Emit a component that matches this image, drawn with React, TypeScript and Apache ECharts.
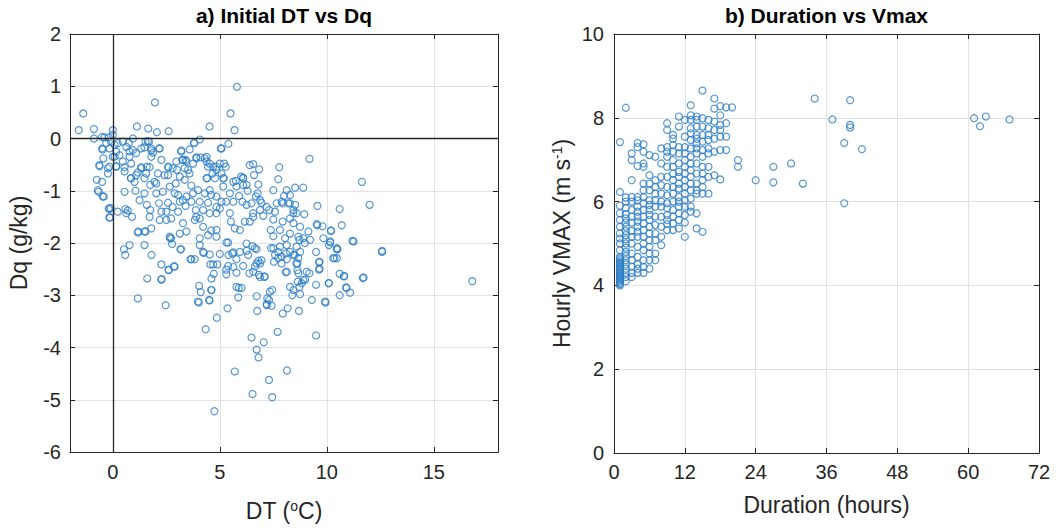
import React, { useEffect, useRef } from "react";
import * as echarts from "echarts";

// Panel a) Initial DT (°C) vs Dq (g/kg)
const dtDqPoints: [number, number][] = [
  [5.8,0.99],[1.97,0.69],[-1.38,0.48],[5.5,0.48],[5.69,0.16],[4.52,0.23],[-1.59,0.16],[-0.88,0.18],[0,0.16],[1.13,0.23],[1.66,0.19],[2.06,0.12],[2.61,0.14],[-0.88,0],[-0.5,0.03],[-0.39,0.02],[-0.19,0.02],
  [0,0.07],[-0.08,-0.06],[0.08,-0.12],[-0.16,-0.19],[0.16,-0.25],[0.23,-0.09],[0.47,-0.06],[0.63,-0.16],[0.94,0],[0.78,-0.25],[-0.5,-0.19],[-0.31,-0.09],[0.31,-0.32],[0,-0.35],[-0.63,-0.51],[-0.16,-0.54],[-0.23,-0.67],[0.16,-0.54],[0.47,-0.44],[0.78,-0.35],[0.86,-0.48],[1.09,-0.28],[1.33,-0.19],[1.53,-0.06],[1.69,-0.06],[1.8,-0.19],[1.88,-0.27],[2.19,-0.19],[2.27,-0.41],[1.59,-0.54],[1.33,-0.57],[1.56,-0.67],[1.09,-0.7],[0.84,-0.76],[0.55,-0.63],[-0.75,-0.79],[-0.5,-0.83],[-0.66,-1.02],[-0.42,-1.11],[-0.16,-1.35],[-0.1,-1.33],[-0.16,-1.51],[0.23,-1.4],[0.59,-1.35],[0.7,-1.38],[0.9,-1.5],[0.55,-1.02],[1.06,-1.0],[1.25,-1.18],[1.48,-1.05],[1.59,-1.27],[1.75,-1.37],[2.16,-1.24],[2.58,-1.23],[2.27,-1.4],[2.5,-1.56],[2.73,-1.53],[1.75,-0.89],[2.03,-0.86],[2.42,-0.7],[2.58,-0.54],[2.8,-0.57],[3.2,-0.25],[2.97,-0.44],[3.25,-0.41],[3.4,-0.41],[3.52,-0.6],[3.13,-0.73],[2.94,-0.86],[3.36,-0.79],[3.59,-0.67],[3.67,-0.9],[3.05,-1.08],[3.13,-1.21],[3.28,-1.18],[3.44,-1.11],[3.67,-1.21],[3.4,-1.29],[3.75,-0.48],[3.8,-0.08],[4.06,-0.02],[3.9,-0.36],[4.1,-0.36],[4.38,-0.35],[4.38,-0.44],[4.53,-0.48],[4.69,-0.54],[4.66,-0.67],[4.84,-0.6],[5,-0.48],[5.2,-0.48],[5.05,-0.19],[5.4,-0.1],[4.38,-0.76],[4.77,-0.76],[5.16,-0.76],[5.63,-0.83],[6.09,-0.75],[6.25,-0.89],[6.8,-0.88],[6.4,-0.51],[6.56,-0.49],[6.84,-0.59],[7.78,-0.55],[7.73,-0.78],[9.19,-0.39],[8.52,-0.94],[8.9,-0.94],[7.5,-0.99],[6.77,-1.05],[6.69,-1.11],[6.88,-1.18],[6.95,-1.23],[6.48,-1.24],[6.25,-1.27],[6.06,-1.21],[5.63,-1.21],[5.3,-1.21],[5.08,-1.21],[4.84,-1.11],[4.53,-0.99],[4.6,-1.08],[4.45,-1.23],[4.06,-1.21],[4.22,-1.37],[3.88,-1.37],[3.83,-1.56],[4.06,-1.53],[3.9,-1.5],[4.53,-1.43],[4.84,-1.43],[5,-1.34],[5.47,-1.43],[5.52,-1.59],[5.7,-1.72],[5.94,-1.75],[6.17,-1.59],[6.4,-1.59],[6.56,-1.5],[7.03,-1.48],[7.31,-1.37],[7.66,-1.24],[7.89,-1.21],[8.0,-1.1],[8.28,-1.08],[8.2,-1.24],[8.44,-1.37],[8.59,-1.43],[8.95,-1.45],[8.52,-1.27],[8.28,-1.53],[7.94,-1.59],[7.5,-1.55],[7.38,-1.75],[7.81,-1.75],[7.5,-1.87],[8.05,-1.91],[8.67,-1.88],[8.75,-1.69],[9.14,-1.78],[9.22,-1.94],[9.56,-1.29],[9.53,-1.64],[9.8,-1.68],[10.2,-1.77],[10.6,-1.35],[10.7,-1.66],[11.2,-1.96],[11.64,-0.83],[12.0,-1.27],[12.58,-2.15],[4.22,-1.69],[4.6,-1.76],[4.45,-1.85],[4.06,-1.91],[4.84,-1.75],[5.39,-1.99],[6.25,-2.01],[6.64,-2.1],[3.44,-1.78],[3.13,-1.82],[3.28,-1.62],[2.73,-1.91],[2.66,-1.88],[1.19,-1.78],[1.48,-1.78],[1.8,-1.72],[0.78,-2.04],[1.48,-2.04],[0.63,-1.43],[1.72,-1.5],[2.19,-1.56],[2.5,-1.4],[2.8,-1.31],[3.05,-1.4],[2.03,-1.05],[2.34,-1.02],[2.66,-0.92],[2.89,-1.05],[3.75,-1.05],[3.98,-0.99],[4.3,-1.05],[4.84,-1.31],[5.16,-0.92],[5.47,-1.05],[5.78,-0.92],[6.0,-0.73],[6.56,-1.43],[6.88,-1.37],[7.19,-1.31],[7.58,-1.4],[8.28,-1.82],[8.44,-1.62],[8.9,-1.91],[9.84,-1.91],[10.16,-1.97],[10.47,-2.1],
  [0.52,-2.12],[0.58,-2.23],[1.81,-2.23],[2.27,-2.41],[2.61,-2.51],[2.86,-2.45],[3.16,-2.12],[2.77,-2.02],[3.67,-2.31],[3.83,-2.31],[4.06,-2.04],[4.25,-2.19],[4.53,-2.22],[5.0,-2.21],[4.56,-2.41],[4.88,-2.41],[1.61,-2.68],[2.27,-2.7],[1.17,-3.06],[2.47,-3.19],[4.03,-2.82],[4.11,-2.94],[4.02,-3.14],[4.52,-3.1],[4.61,-2.9],[4.61,-2.68],[4.72,-2.59],[4.86,-3.43],[4.34,-3.65],[5.36,-3.25],[5.3,-2.51],[5.3,-2.6],[5.39,-2.44],[5.63,-2.46],[5.41,-2.23],[5.58,-2.2],[5.78,-2.57],[5.78,-2.84],[5.89,-2.86],[6.02,-2.86],[5.86,-3.04],[5.63,-2.18],[5.78,-2.31],[5.94,-2.17],[6.25,-2.15],[6.33,-2.23],[6.09,-2.44],[6.38,-2.58],[6.56,-2.55],[6.64,-2.45],[6.72,-2.39],[6.8,-2.34],[6.95,-2.33],[6.88,-2.39],[6.53,-2.06],[6.72,-2.12],[6.83,-2.61],[7.09,-2.64],[6.72,-3.02],[7.34,-2.93],[7.22,-3.06],[7.19,-3.17],[7.42,-3.2],[6.75,-3.3],[6.48,-3.81],[7.05,-3.9],[6.72,-4.04],[6.81,-4.19],[7.7,-3.7],[5.7,-4.46],[7.3,-4.62],[6.53,-4.89],[7.45,-4.95],[8.14,-4.44],[4.75,-5.22],[7.39,-2.1],[7.58,-2.23],[7.73,-2.29],[7.53,-2.36],[7.89,-2.39],[7.81,-2.07],[8.09,-2.2],[8.28,-2.17],[8.44,-2.23],[8.59,-2.07],[8.67,-2.29],[8.63,-2.39],[8.13,-2.31],[8.08,-2.56],[8.63,-2.52],[9.06,-2.55],[9.19,-2.58],[8.64,-2.74],[8.83,-2.77],[8.98,-2.7],[8.28,-2.84],[8.44,-2.9],[8.72,-2.84],[8.75,-2.98],[8.39,-3.0],[9.3,-3.09],[8.17,-3.25],[7.94,-3.35],[8.7,-3.3],[9.5,-2.17],[9.5,-2.8],[9.64,-2.37],[9.66,-2.49],[9.94,-3.14],[10.09,-2.77],[10.6,-2.59],[10.81,-2.63],[10.3,-2.29],[10.47,-2.12],[10.47,-2.29],[10.1,-2.04],[10.6,-3.0],[10.92,-2.86],[11.09,-2.95],[11.72,-2.66],[11.68,-2.67],[9.5,-3.77],[12.58,-2.17],[16.8,-2.73],[11.25,-1.97],
  [-0.7,-0.99],[-0.47,-1.11],[-0.19,-1.34],[-0.13,-1.51],[1.17,-1.8],[1.53,-1.78],[2.28,-2.69],[2.61,-2.52],[2.89,-2.45],[2.67,-1.91],[3.19,-2.12],[3.63,-2.31],[4.22,-2.17],[4.69,-2.41],[4.84,-1.88],[5.31,-1.99],[4.6,-2.9],[4.5,-3.09],[3.98,-3.12],
  [-0.47,-0.21],[-0.44,-0.38],[-0.62,-0.53],[-0.23,-0.57],[0.08,-0.35],[0.16,-0.53],[0.55,-0.55],[0.86,-0.76],[1.17,-0.65],[1.33,-0.55],[1.72,-0.55],[2.11,-0.67],[2.58,-0.7],[2.61,-0.55],[3.0,-0.6],[3.36,-0.57],[3.28,-0.41],[3.44,-0.44],[3.2,-0.23],[3.59,-0.21],[3.8,-0.09],[3.91,-0.38],[4.3,-0.38],[4.45,-0.54],[4.84,-0.54],[5.08,-0.67],[5.28,-0.54],[5.08,-0.19],[4.41,-0.76],[5.19,-0.76],[6.09,-0.76],[5.75,-0.81],[1.48,-0.76],[1.95,-0.83],[1.02,-0.83],[1.8,-0.35],[1.8,-0.23],[2.16,-0.19],[1.48,-0.17],[1.64,-0.05],[0.75,-0.08],[0.94,-0.22],
  [10.19,-1.76],[9.56,-1.66],[10.16,-1.99],[10.5,-2.12],[10.36,-2.29],[9.66,-2.36],[9.64,-2.51],[8.13,-0.99],[7.94,-1.24],[8.28,-1.24],[8.44,-1.43],[8.72,-1.94],[8.97,-2.0],[8.75,-2.17],[8.58,-2.39],[8.5,-2.23],[8.13,-2.04],[7.73,-2.17],[7.5,-2.1],[7.89,-2.26],[8.13,-2.55],[8.67,-2.58],[8.9,-2.71],[9.92,-3.12],[10.1,-2.77],[10.8,-2.64],[10.9,-2.85],[6.88,-2.65],[7.09,-2.65],[7.3,-3.09],[7.45,-2.9],[7.2,-3.19],[6.09,-0.89],[6.3,-1.0],[5.9,-1.1],[6.6,-0.7],
];

// Panel b) Duration (hours) vs hourly VMAX (m s^-1)
const durationVmaxPoints: [number, number][] = [
  [1,7.42],[1,6.23],[1,5.9],[1,5.72],[1,5.56],[1,5.4],[1,5.24],[1,5.12],[1,5.0],[1,4.84],[1,4.68],[1,4.0],[1,4.03],[1,4.06],[1,4.1],[1,4.13],[1,4.16],[1,4.2],[1,4.23],[1,4.26],[1,4.3],[1,4.33],[1,4.36],[1,4.4],[1,4.43],[1,4.46],[1,4.5],[1,4.53],[1,4.56],[1,4.6],[1,4.64],
  [2,8.24],[2,4.1],[2,4.2],[2,4.3],[2,4.4],[2,4.5],[2,4.6],[2,4.7],[2,4.8],[2,4.9],[2,5.0],[2,5.1],[2,5.2],[2,5.3],[2,5.4],[2,5.5],[2,5.6],[2,5.7],[2,5.85],[2,6.0],[2,6.1],
  [3,7.15],[3,6.99],[3,6.51],[3,6.11],[3,6.0],[3,5.8],[3,5.64],[3,5.5],[3,5.3],[3,5.16],[3,5.0],[3,4.76],[3,4.2],[3,4.3],[3,4.45],[3,4.6],
  [4,7.4],[4,7.3],[4,6.85],[4,6.11],[4,6.03],[4,5.88],[4,5.76],[4,5.64],[4,5.4],[4,5.16],[4,4.92],[4,4.68],[4,4.4],[4,4.3],[4,4.5],[4,5.28],[4,5.52],
  [5,7.37],[5,7.19],[5,6.91],[5,6.83],[5,6.43],[5,6.27],[5,6.11],[5,5.96],[5,5.8],[5,5.64],[5,5.48],[5,5.32],[5,5.16],[5,5.0],[5,4.84],[5,4.44],[5,4.3],[5,4.6],
  [6,7.11],[6,6.63],[6,6.43],[6,6.27],[6,6.03],[6,5.92],[6,5.8],[6,5.68],[6,5.56],[6,5.4],[6,5.24],[6,5.08],[6,4.92],[6,4.76],[6,4.4],[6,4.6],
  [7,7.07],[7,6.51],[7,6.35],[7,6.19],[7,6.03],[7,5.88],[7,5.64],[7,5.44],[7,5.24],[7,5.08],[7,4.76],[7,4.6],
  [8,7.27],[8,6.91],[8,6.59],[8,6.39],[8,6.19],[8,6.0],[8,5.88],[8,5.64],[8,5.4],[8,5.16],[8,4.96],
  [9,7.87],[9,7.71],[9,7.3],[9,7.19],[9,7.07],[9,6.83],[9,6.59],[9,6.35],[9,6.15],[9,5.96],[9,5.84],[9,5.68],[9,5.56],[9,5.46],[9,5.32],
  [10,7.59],[10,7.5],[10,7.35],[10,7.19],[10,6.99],[10,6.83],[10,6.67],[10,6.51],[10,6.35],[10,6.19],[10,6.0],[10,5.8],[10,5.64],[10,5.48],[10,5.32],
  [11,8.03],[11,7.79],[11,7.3],[11,7.15],[11,6.91],[11,6.71],[11,6.59],[11,6.43],[11,6.31],[11,6.11],[11,6.0],[11,5.88],[11,5.72],[11,5.56],[11,5.36],
  [12,7.95],[12,7.55],[12,7.3],[12,7.15],[12,6.99],[12,6.83],[12,6.67],[12,6.51],[12,6.35],[12,6.19],[12,6.03],[12,5.88],[12,5.68],[12,5.5],[12,5.16],
  [13,8.3],[13,8.06],[13,7.95],[13,7.75],[13,7.63],[13,7.47],[13,7.27],[13,7.07],[13,6.91],[13,6.75],[13,6.59],[13,6.43],[13,6.27],[13,6.07],[13,5.88],[13,5.76],
  [14,8.03],[14,7.95],[14,7.79],[14,7.59],[14,7.5],[14,7.39],[14,7.27],[14,7.15],[14,6.91],[14,6.67],[14,6.43],[14,6.27],[14,6.19],[14,5.72],[14,5.36],
  [15,8.65],[15,7.99],[15,7.79],[15,7.59],[15,7.43],[15,7.23],[15,7.07],[15,6.83],[15,6.67],[15,6.51],[15,6.35],[15,6.19],[15,5.28],
  [16,7.95],[16,7.75],[16,7.59],[16,7.47],[16,7.27],[16,7.15],[16,6.83],[16,6.59],[16,6.19],
  [17,8.46],[17,8.22],[17,7.91],[17,7.71],[17,7.5],[17,7.19],[17,6.63],
  [18,8.28],[18,8.06],[18,7.83],[18,7.71],[18,7.55],[18,7.23],[18,6.53],
  [19,8.25],[19,7.87],[19,7.55],[19,7.23],
  [20,8.25],
  [21,6.99],[21,6.83],[24,6.51],[27,6.83],[27,6.46],[30,6.91],[32,6.43],[34,8.46],[37,7.96],[39,7.4],[39,5.96],[40,8.42],[40,7.83],[40,7.77],[42,7.25],[61,7.99],[62,7.8],[63,8.03],[67,7.96],
];

const panelATitle = "a) Initial DT vs Dq";
const panelBTitle = "b) Duration vs Vmax";
const dtTicks = [0, 5, 10, 15];
const dtRange = [-2, 18];
const dqRange = [-6, 2];
const durationRange = [0, 72];
const vmaxRange = [0, 10];

const FONT = "'Liberation Sans', Arial, Helvetica, sans-serif";
const INK = "#262626";
const GRID = "#e2e2e2";
const MARK = "#2a7dc6";

const gridA = { left: 70, top: 34, width: 428, height: 418 };
const gridB = { left: 614, top: 34, width: 425, height: 419 };

function boxAxis(extra: any) {
  return {
    axisLine: { show: true, onZero: false, lineStyle: { color: INK, width: 1 } },
    axisTick: { show: true, inside: true, length: 5, lineStyle: { color: INK } },
    axisLabel: { show: false },
    splitLine: { show: false },
    ...extra,
  };
}

const labelStyle = { color: INK, fontSize: 20, fontFamily: FONT };
const nameStyle = {
  color: INK,
  fontSize: 23,
  fontFamily: FONT,
  rich: {
    sup: { fontSize: 14, fontFamily: FONT, color: INK, verticalAlign: "top", padding: [0, 0, 10, 0] },
  },
};

export default function App() {
  const ref = useRef<HTMLDivElement>(null);
  useEffect(() => {
    document.body.style.margin = "0";
    const chart = echarts.init(ref.current!, null, { renderer: "svg" });
    const option: any = {
      animation: false,
      backgroundColor: "#ffffff",
      textStyle: { fontFamily: FONT },
      grid: [
        { ...gridA, containLabel: false },
        { ...gridB, containLabel: false },
      ],
      xAxis: [
        {
          type: "value", gridIndex: 0, position: "bottom", min: dtRange[0], max: dtRange[1],
          name: "DT ({sup|o}C)", nameLocation: "middle", nameGap: 47, nameTextStyle: nameStyle,
          axisLine: { show: true, onZero: false, lineStyle: { color: INK, width: 1 } },
          axisTick: { show: true, inside: true, length: 5, customValues: dtTicks, lineStyle: { color: INK } },
          axisLabel: { ...labelStyle, margin: 10, customValues: dtTicks },
          splitLine: { show: true, lineStyle: { color: GRID, width: 1 } },
        },
        boxAxis({ type: "value", gridIndex: 0, position: "top", min: dtRange[0], max: dtRange[1], axisTick: { show: true, inside: true, length: 5, customValues: dtTicks, lineStyle: { color: INK } } }),
        {
          type: "value", gridIndex: 1, position: "bottom", min: durationRange[0], max: durationRange[1], interval: 12,
          name: "Duration (hours)", nameLocation: "middle", nameGap: 40, nameTextStyle: nameStyle,
          axisLine: { show: true, onZero: false, lineStyle: { color: INK, width: 1 } },
          axisTick: { show: true, inside: true, length: 5, lineStyle: { color: INK } },
          axisLabel: { ...labelStyle, margin: 9, showMinLabel: true, showMaxLabel: true },
          splitLine: { show: true, lineStyle: { color: GRID, width: 1 } },
        },
        boxAxis({ type: "value", gridIndex: 1, position: "top", min: durationRange[0], max: durationRange[1], interval: 12 }),
      ],
      yAxis: [
        {
          type: "value", gridIndex: 0, position: "left", min: dqRange[0], max: dqRange[1], interval: 1,
          name: "Dq (g/kg)", nameLocation: "middle", nameGap: 40, nameTextStyle: nameStyle,
          axisLine: { show: true, onZero: false, lineStyle: { color: INK, width: 1 } },
          axisTick: { show: true, inside: true, length: 5, lineStyle: { color: INK } },
          axisLabel: { ...labelStyle, margin: 9 },
          splitLine: { show: true, lineStyle: { color: GRID, width: 1 } },
        },
        boxAxis({ type: "value", gridIndex: 0, position: "right", min: dqRange[0], max: dqRange[1], interval: 1 }),
        {
          type: "value", gridIndex: 1, position: "left", min: vmaxRange[0], max: vmaxRange[1], interval: 2,
          name: "Hourly VMAX (m s{sup|-1})", nameLocation: "middle", nameGap: 40, nameTextStyle: nameStyle,
          axisLine: { show: true, onZero: false, lineStyle: { color: INK, width: 1 } },
          axisTick: { show: true, inside: true, length: 5, lineStyle: { color: INK } },
          axisLabel: { ...labelStyle, margin: 10 },
          splitLine: { show: true, lineStyle: { color: GRID, width: 1 } },
        },
        boxAxis({ type: "value", gridIndex: 1, position: "right", min: vmaxRange[0], max: vmaxRange[1], interval: 2 }),
      ],
      graphic: [
        {
          type: "text", x: gridA.left + gridA.width / 2, y: 15,
          style: { text: panelATitle, fill: "#000", font: `bold 21px ${FONT}`, textAlign: "center", textVerticalAlign: "middle" },
        },
        {
          type: "text", x: gridB.left + gridB.width / 2, y: 15,
          style: { text: panelBTitle, fill: "#000", font: `bold 21px ${FONT}`, textAlign: "center", textVerticalAlign: "middle" },
        },
      ],
      series: [
        {
          type: "scatter", xAxisIndex: 0, yAxisIndex: 0, data: dtDqPoints,
          symbol: "circle", symbolSize: 7,
          itemStyle: { color: "rgba(0,0,0,0)", borderColor: MARK, borderWidth: 1.2 },
          markLine: {
            silent: true, symbol: "none", label: { show: false },
            lineStyle: { color: INK, width: 1.3, type: "solid" },
            data: [{ xAxis: 0 }, { yAxis: 0 }],
          },
          z: 3,
        },
        {
          type: "scatter", xAxisIndex: 2, yAxisIndex: 2, data: durationVmaxPoints,
          symbol: "circle", symbolSize: 7,
          itemStyle: { color: "rgba(0,0,0,0)", borderColor: MARK, borderWidth: 1.2 },
          z: 3,
        },
      ],
    };
    chart.setOption(option);
    return () => chart.dispose();
  }, []);
  return <div ref={ref} style={{ width: 1060, height: 528, background: "#fff" }} />;
}
